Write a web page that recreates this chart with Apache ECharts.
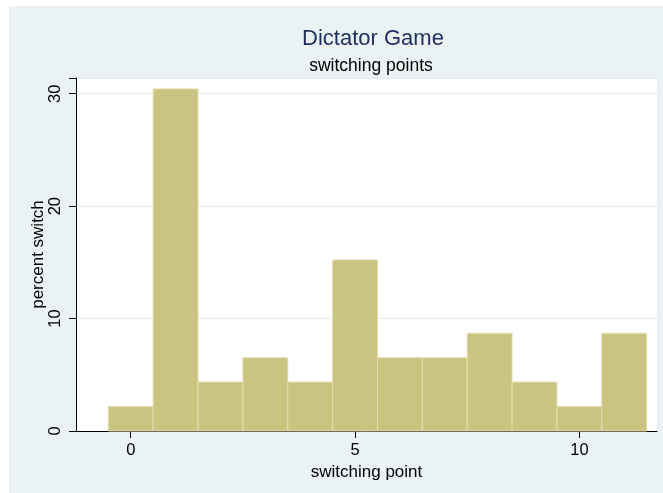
<!DOCTYPE html>
<html>
<head>
<meta charset="utf-8">
<script src="https://cdn.jsdelivr.net/npm/echarts@6/dist/echarts.min.js"></script>
<style>
html,body{margin:0;padding:0;background:#fff;}
#c{width:663px;height:493px;}
</style>
</head>
<body>
<div id="c"></div>
<script>
// switching point bins (bin centers)
const switchingPoints = [0, 1, 2, 3, 4, 5, 6, 7, 8, 9, 10, 11];
// percent of subjects at each switching point
const percentSwitch = [2.17, 30.43, 4.35, 6.52, 4.35, 15.22, 6.52, 6.52, 8.70, 4.35, 2.17, 8.70];
const xTickValues = [0, 5, 10];
const yTickValues = [0, 10, 20, 30];
const titleText = 'Dictator Game';
const subtitleText = 'switching points';
const xTitle = 'switching point';
const yTitle = 'percent switch';

const font = '"Liberation Sans", Arial, Helvetica, sans-serif';
const chart = echarts.init(document.getElementById('c'));
const data = switchingPoints.map((x, i) => [x, percentSwitch[i]]);

chart.setOption({
  backgroundColor: '#ffffff',
  animation: false,
  textStyle: { fontFamily: font },
  graphic: [{
    type: 'rect', z: -100, silent: true,
    shape: { x: 9, y: 6, width: 660, height: 493 },
    style: { fill: '#eaf2f3' }
  }],
  title: [
    { text: titleText, left: 368, textAlign: 'center', top: 23,
      textStyle: { fontFamily: font, fontSize: 22, fontWeight: 'normal', color: '#1e2f5e' } },
    { text: subtitleText, left: 366, textAlign: 'center', top: 52,
      textStyle: { fontFamily: font, fontSize: 17.5, fontWeight: 'normal', color: '#000' } }
  ],
  grid: {
    left: 76, right: 6, top: 78, bottom: 62,
    show: true, backgroundColor: '#ffffff', borderWidth: 0
  },
  xAxis: {
    type: 'value', min: -1.22, max: 11.73,
    name: xTitle, nameLocation: 'middle', nameGap: 27,
    nameTextStyle: { fontFamily: font, fontSize: 17, color: '#000' },
    axisLine: { show: true, onZero: false, lineStyle: { color: '#000', width: 1 } },
    axisTick: { show: true, length: 7, customValues: xTickValues, lineStyle: { color: '#000' } },
    axisLabel: { customValues: xTickValues, margin: 11, fontFamily: font, fontSize: 16.5, color: '#000' },
    splitLine: { show: false }
  },
  yAxis: {
    type: 'value', min: 0, max: 31.4, interval: 10,
    name: yTitle, nameLocation: 'middle', nameGap: 29, nameRotate: 90,
    nameMoveOverlap: false,
    nameTextStyle: { fontFamily: font, fontSize: 17, color: '#000' },
    axisLine: { show: true, onZero: false, lineStyle: { color: '#000', width: 1 } },
    axisTick: { show: true, length: 7, lineStyle: { color: '#000' } },
    axisLabel: { rotate: 90, margin: 12, fontFamily: font, fontSize: 16.5, color: '#000',
      formatter: v => yTickValues.includes(v) ? String(v) : '' },
    splitLine: { show: true, lineStyle: { color: '#e4ecf0', width: 1 } }
  },
  series: [{
    type: 'custom',
    data: data,
    renderItem: function (params, api) {
      const x = api.value(0), y = api.value(1);
      const p0 = api.coord([x - 0.5, y]);
      const p1 = api.coord([x + 0.5, 0]);
      return {
        type: 'rect',
        shape: { x: p0[0], y: p0[1], width: p1[0] - p0[0], height: p1[1] - p0[1] },
        style: { fill: '#cbc480', stroke: '#e2ddb0', lineWidth: 1 }
      };
    }
  }]
});
</script>
</body>
</html>
